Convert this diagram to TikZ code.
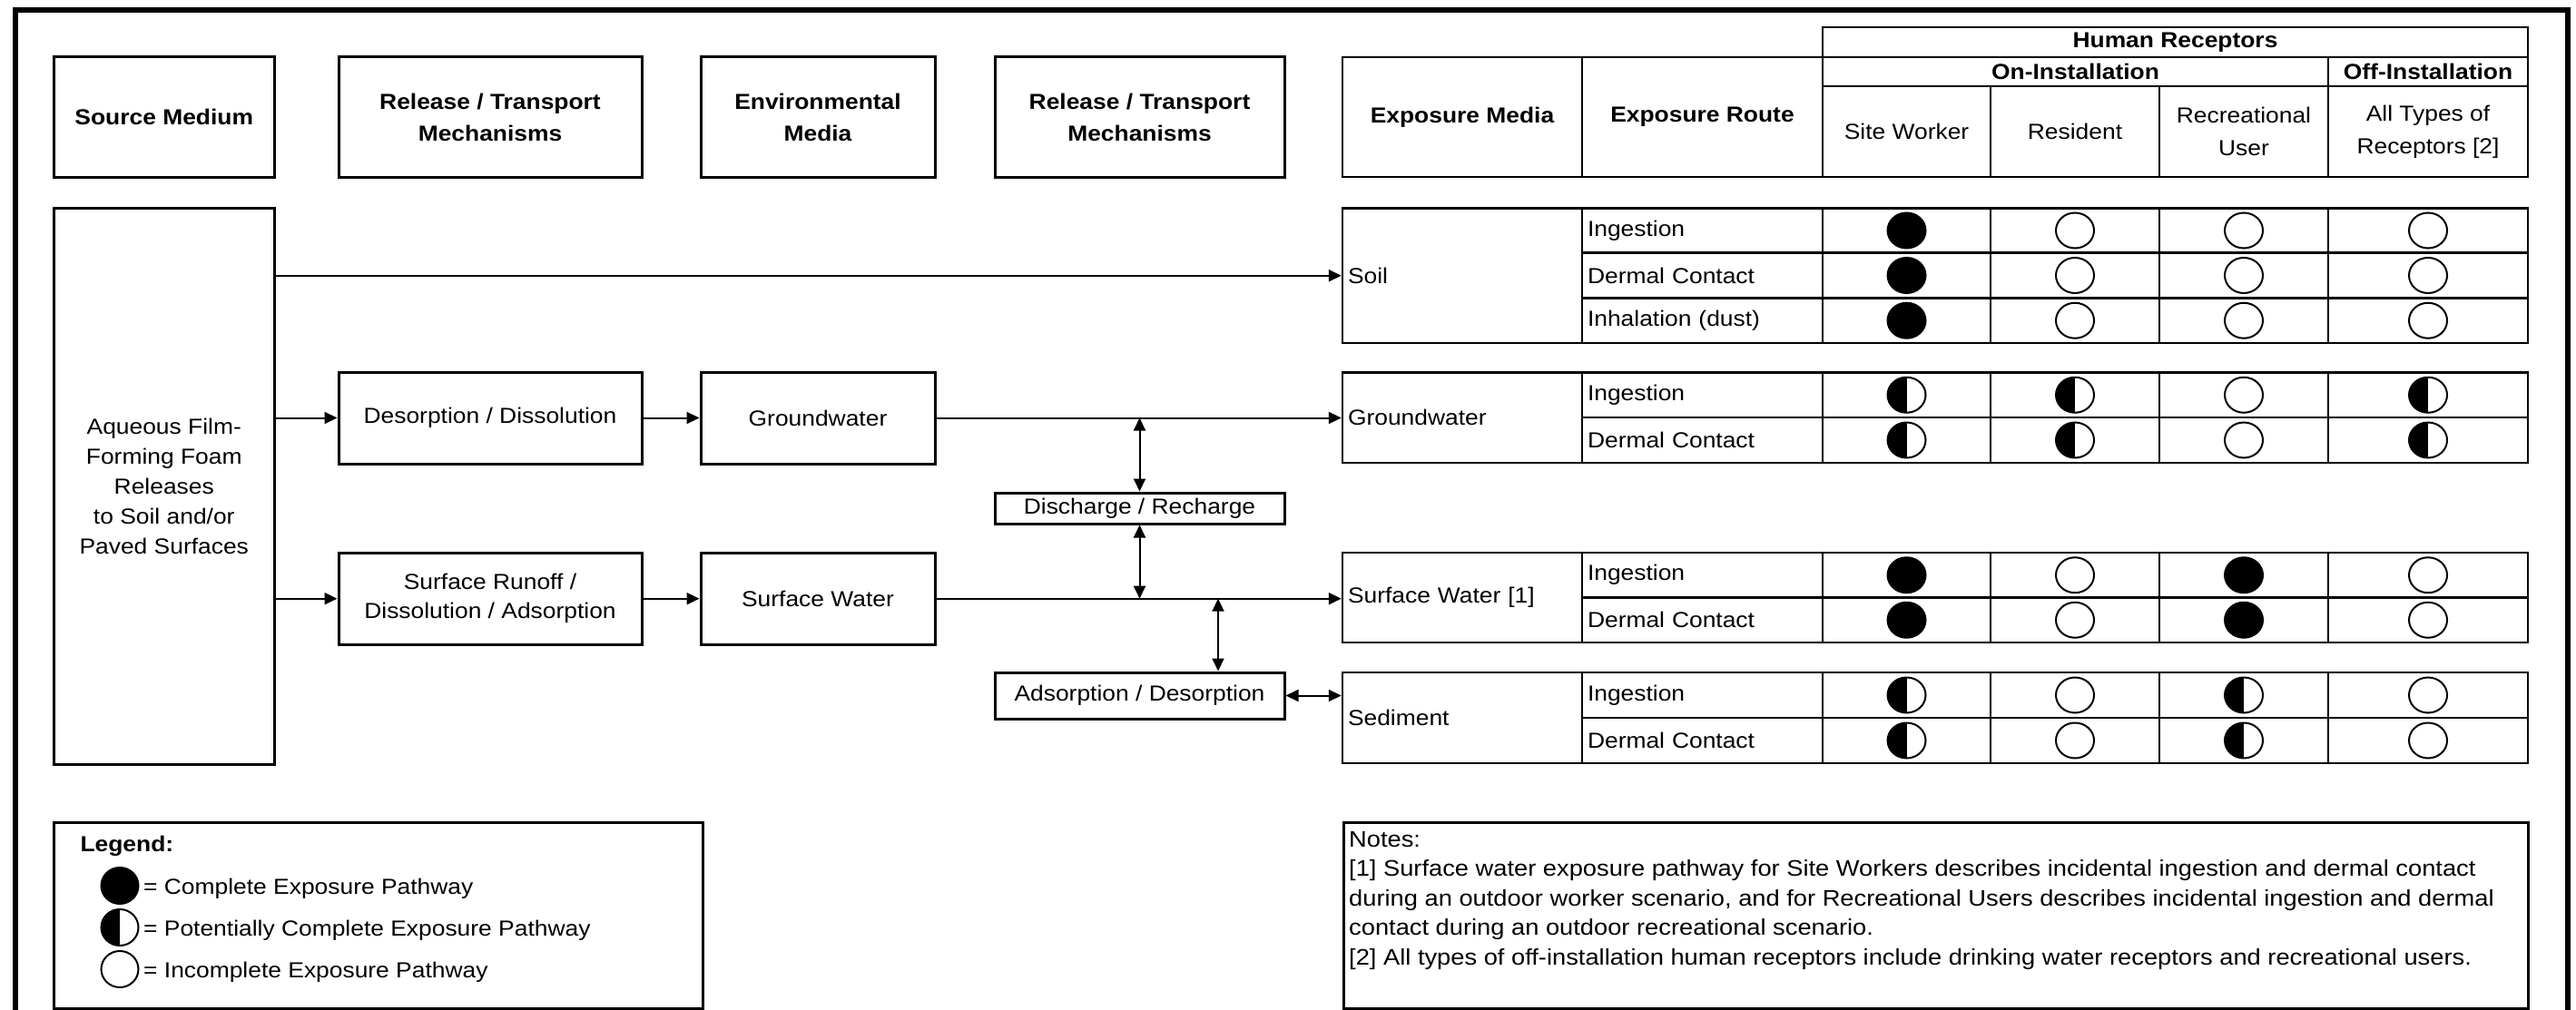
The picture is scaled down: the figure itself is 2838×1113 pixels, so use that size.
\documentclass[tikz,border=0pt]{standalone}
\usepackage{fontspec}
\setmainfont{Liberation Sans}[FakeStretch=1.1]
\usetikzlibrary{arrows.meta,shapes.geometric}

% one row of the exposure table: route cell, four receptor cells and their symbols
\newcommand\exprow[8]{%
  \node[route, minimum height=#3] (#1) at (1875.5,#2) {#4};
  \node[cellbox, minimum width=185, minimum height=#3] (#1-c1) at (2100.5,#2) {};
  \node[cellbox, minimum width=186, minimum height=#3] (#1-c2) at (2286,#2) {};
  \node[cellbox, minimum width=186, minimum height=#3] (#1-c3) at (2472,#2) {};
  \node[cellbox, minimum width=220, minimum height=#3] (#1-c4) at (2675,#2) {};
  \node[#5] (#1-s1) at (#1-c1) {};
  \node[#6] (#1-s2) at (#1-c2) {};
  \node[#7] (#1-s3) at (#1-c3) {};
  \node[#8] (#1-s4) at (#1-c4) {};
}

\begin{document}
\begin{tikzpicture}[x=1pt,y=-1pt,
  font=\fontsize{24}{30}\selectfont,
  box/.style={draw, line width=3pt, inner sep=0pt, align=center},
  hdr/.style={box, font=\bfseries\fontsize{24}{35}\selectfont},
  flow/.style={box, font=\fontsize{24}{32}\selectfont},
  hcell/.style={draw, line width=2.5pt, inner sep=0pt, align=center,
    font=\bfseries\fontsize{24}{35}\selectfont},
  ncell/.style={draw, line width=2.5pt, inner sep=0pt, align=center,
    font=\fontsize{24}{36}\selectfont},
  cellbox/.style={draw, line width=2.5pt, inner sep=0pt},
  route/.style={draw, line width=2.5pt, text width=253pt, inner xsep=6pt,
    inner ysep=0pt, align=left},
  media/.style={draw, line width=2.5pt, text width=252pt, inner xsep=6pt,
    inner ysep=0pt, align=left, minimum width=264},
  sym/.style={ellipse, draw, line width=2pt, minimum width=42, minimum height=39,
    inner sep=0pt},
  full/.style={sym, fill=black},
  none/.style={sym, fill=white},
  half/.style={sym, fill=white, path picture={\fill[black]
    (path picture bounding box.south west) rectangle (path picture bounding box.north);}},
  note/.style={anchor=base west, inner sep=0pt, font=\fontsize{24.8}{32}\selectfont},
  legtext/.style={anchor=base west, inner sep=0pt},
  tip/.tip={Triangle[length=14pt,width=13pt]},
  arr/.style={line width=2pt, -tip},
  darr/.style={line width=2pt, tip-tip},
]
\useasboundingbox (0,0) rectangle (2838,1113);

% outer frame (open at the bottom)
\draw[line width=6.5pt] (17,1140) -- (17,11) -- (2829,11) -- (2829,1140);

% column headings
\node[hdr, minimum width=242.5, minimum height=132] (hsrc) at (180.75,129) {Source Medium};
\node[hdr, minimum width=334, minimum height=132] (hrt1) at (540,129) {Release / Transport\\Mechanisms};
\node[hdr, minimum width=258, minimum height=132] (henv) at (901,129) {Environmental\\Media};
\node[hdr, minimum width=319, minimum height=132] (hrt2) at (1255.5,129) {Release / Transport\\Mechanisms};

\node[hcell, minimum width=264, minimum height=132] (hmedia) at (1611,129) {Exposure Media};
\node[hcell, minimum width=265, minimum height=132] (hroute) at (1875.5,129) {Exposure Route};
\node[hcell, minimum width=777, minimum height=33] (hhr) at (2396.5,46.5) {Human Receptors};
\node[hcell, minimum width=557, minimum height=32] (hon) at (2286.5,79) {On-Installation};
\node[hcell, minimum width=220, minimum height=32] (hoff) at (2675,79) {Off-Installation};
\node[ncell, minimum width=185, minimum height=100] (hsw) at (2100.5,145) {Site Worker};
\node[ncell, minimum width=186, minimum height=100] (hres) at (2286,145) {Resident};
\node[ncell, minimum width=186, minimum height=100] (hrec) at (2472,145) {Recreational\\User};
\node[ncell, minimum width=220, minimum height=100] (hall) at (2675,145) {All Types of\\Receptors [2]};

% source and transport boxes
\node[box, font=\fontsize{24}{33}\selectfont, minimum width=242.5, minimum height=612.5] (aq) at (180.75,535.75)
  {Aqueous Film-\\Forming Foam\\Releases\\to Soil and/or\\Paved Surfaces};
\node[flow, minimum width=334, minimum height=101] (des) at (540,460.5) {Desorption / Dissolution};
\node[flow, minimum width=258, minimum height=101] (gw) at (901,460.5) {Groundwater};
\node[flow, minimum width=334, minimum height=101] (sr) at (540,659.7) {Surface Runoff /\\Dissolution / Adsorption};
\node[flow, minimum width=258, minimum height=101] (swb) at (901,659.7) {Surface Water};
\node[flow, minimum width=319, minimum height=34] (dis) at (1255.5,560) {Discharge / Recharge};
\node[flow, minimum width=319, minimum height=51] (ads) at (1255.5,766.5) {Adsorption / Desorption};

% exposure media cells
\node[media, minimum height=148.5] (soil) at (1611,303.75) {Soil};
\node[media, minimum height=99.5] (gwm) at (1611,460.25) {Groundwater};
\node[media, minimum height=99] (swm) at (1611,658.5) {Surface Water [1]};
\node[media, minimum height=100] (sed) at (1611,791) {Sediment};

% exposure routes and pathway status
\exprow{soilA}{254}{49}{Ingestion}{full}{none}{none}{none}
\exprow{soilB}{303.5}{50}{Dermal Contact}{full}{none}{none}{none}
\exprow{soilC}{353.25}{49.5}{Inhalation (dust)}{full}{none}{none}{none}
\exprow{gwA}{435.25}{49.5}{Ingestion}{half}{half}{none}{half}
\exprow{gwB}{485}{50}{Dermal Contact}{half}{half}{none}{half}
\exprow{swA}{633.75}{49.5}{Ingestion}{full}{none}{full}{none}
\exprow{swB}{683.25}{49.5}{Dermal Contact}{full}{none}{full}{none}
\exprow{sdA}{766}{50}{Ingestion}{half}{none}{half}{none}
\exprow{sdB}{816}{50}{Dermal Contact}{half}{none}{half}{none}

% connectors
\draw[arr] (aq.east |- soil.west) -- (soil.west);
\draw[arr] (aq.east |- des.west) -- (des.west);
\draw[arr] (des.east) -- (gw.west);
\draw[arr] (gw.east) -- (gw.east -| gwm.west);
\draw[arr] (aq.east |- sr.west) -- (sr.west);
\draw[arr] (sr.east) -- (swb.west);
\draw[arr] (swb.east) -- (swb.east -| swm.west);
\draw[darr] (dis.north |- gw.east) -- (dis.north);
\draw[darr] (dis.south) -- (dis.south |- swb.east);
\coordinate (adsx) at ([xshift=86.5pt]ads.north);
\draw[darr] (adsx |- swb.east) -- (adsx);
\draw[darr] (ads.east) -- (ads.east -| sed.west);

% legend
\node[draw, line width=3pt, minimum width=715, minimum height=205] (legend) at (417,1009) {};
\node[anchor=base west, font=\bfseries\fontsize{24}{30}\selectfont] (legt) at (85,938) {Legend:};
\node[full, minimum width=41, minimum height=40] (lg1) at (132,976) {};
\node[half, minimum width=41, minimum height=40] (lg2) at (132,1022) {};
\node[none, minimum width=41, minimum height=40] (lg3) at (132,1068) {};
\node[legtext] (lt1) at (158,985) {= Complete Exposure Pathway};
\node[legtext] (lt2) at (158,1031) {= Potentially Complete Exposure Pathway};
\node[legtext] (lt3) at (158,1077) {= Incomplete Exposure Pathway};

% notes
\node[draw, line width=3pt, minimum width=1304.5, minimum height=205] (notes) at (2132.75,1009) {};
\node[note] (n0) at (1486,933) {Notes:};
\node[note] (n1) at (1486,965.6) {[1] Surface water exposure pathway for Site Workers describes incidental ingestion and dermal contact};
\node[note] (n2) at (1486,998.2) {during an outdoor worker scenario, and for Recreational Users describes incidental ingestion and dermal};
\node[note] (n3) at (1486,1030.8) {contact during an outdoor recreational scenario.};
\node[note] (n4) at (1486,1063.4) {[2] All types of off-installation human receptors include drinking water receptors and recreational users.};
\end{tikzpicture}
\end{document}
